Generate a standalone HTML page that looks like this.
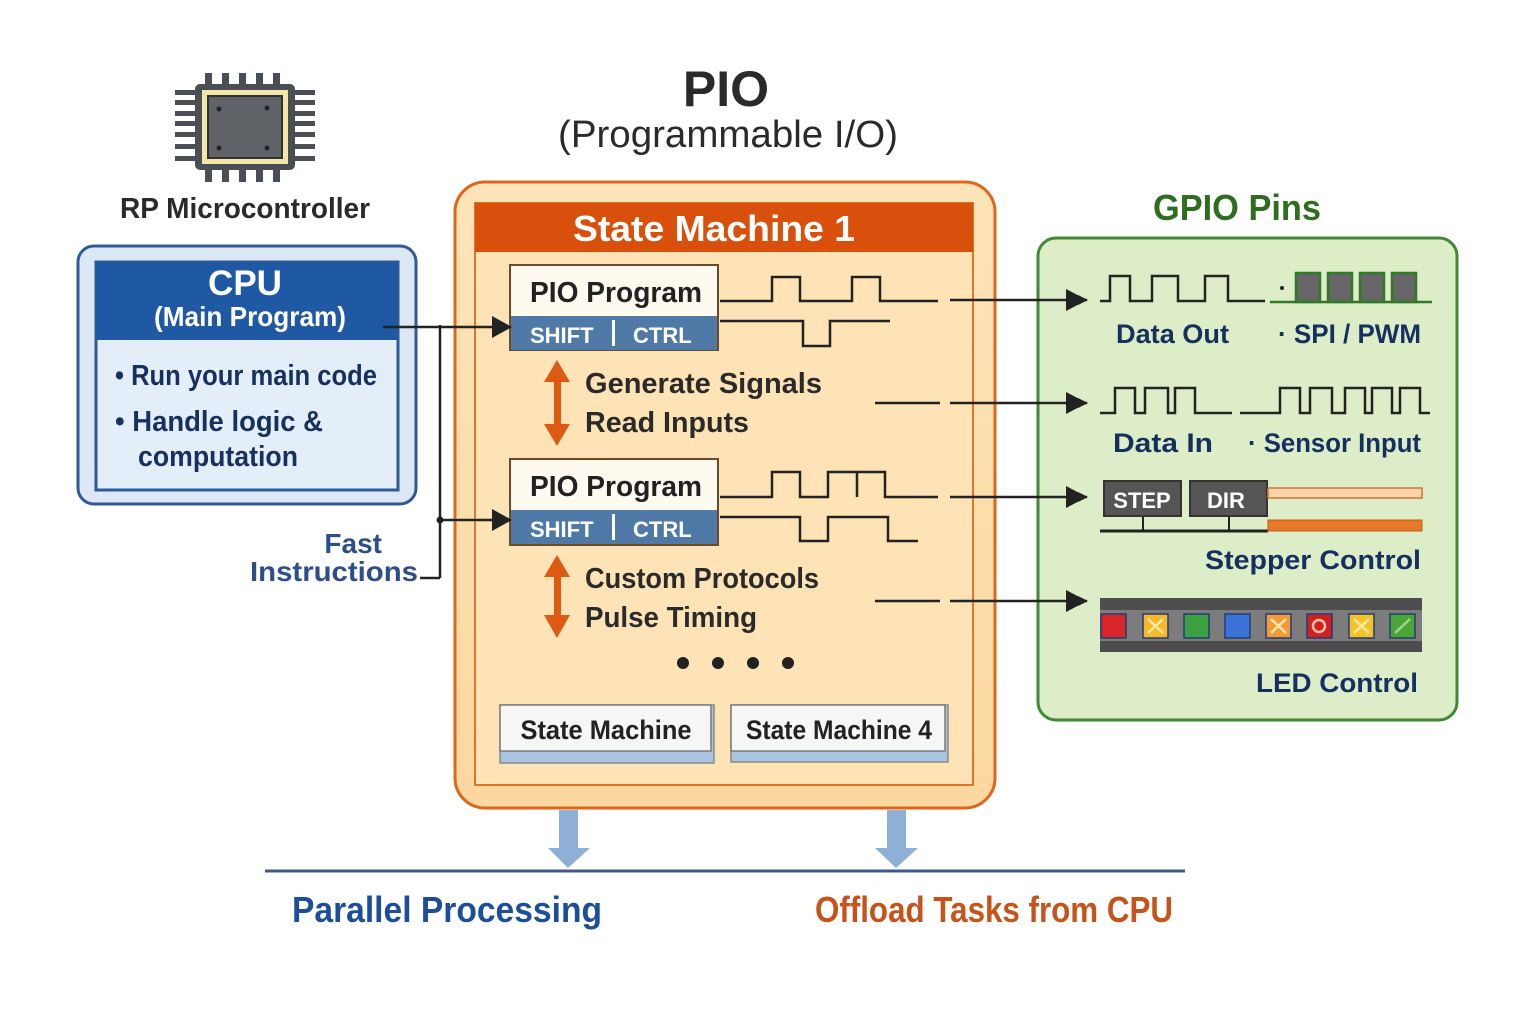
<!DOCTYPE html>
<html><head><meta charset="utf-8"><style>
html,body{margin:0;padding:0;background:#fff;}
svg{display:block;}
text{font-family:"Liberation Sans",sans-serif;font-weight:bold;}
</style></head><body>
<svg width="1536" height="1024" viewBox="0 0 1536 1024" xmlns="http://www.w3.org/2000/svg">
<defs>
<marker id="ah" markerWidth="10" markerHeight="10" refX="9" refY="5" orient="auto" markerUnits="userSpaceOnUse" viewBox="0 0 10 10"><path d="M0,0 L10,5 L0,10 z" fill="#222"/></marker>
<linearGradient id="og" x1="0" y1="0" x2="0" y2="1"><stop offset="0" stop-color="#fde4b8"/><stop offset="1" stop-color="#fbd8a0"/></linearGradient>
</defs>
<rect width="1536" height="1024" fill="#fff"/>

<!-- chip -->
<g fill="#4a4f55">
<rect x="205" y="73" width="7" height="14"/><rect x="222" y="73" width="7" height="14"/><rect x="239" y="73" width="7" height="14"/><rect x="256" y="73" width="7" height="14"/><rect x="273" y="73" width="7" height="14"/>
<rect x="205" y="168" width="7" height="14"/><rect x="222" y="168" width="7" height="14"/><rect x="239" y="168" width="7" height="14"/><rect x="256" y="168" width="7" height="14"/><rect x="273" y="168" width="7" height="14"/>
<rect x="175" y="90" width="22" height="5"/><rect x="175" y="100" width="22" height="5"/><rect x="175" y="111" width="22" height="5"/><rect x="175" y="121" width="22" height="5"/><rect x="175" y="132" width="22" height="5"/><rect x="175" y="144" width="22" height="5"/><rect x="175" y="156" width="22" height="5"/>
<rect x="293" y="90" width="22" height="5"/><rect x="293" y="100" width="22" height="5"/><rect x="293" y="111" width="22" height="5"/><rect x="293" y="121" width="22" height="5"/><rect x="293" y="132" width="22" height="5"/><rect x="293" y="144" width="22" height="5"/><rect x="293" y="156" width="22" height="5"/>
<rect x="195" y="84" width="100" height="86" rx="5"/>
</g>
<rect x="202" y="90" width="86" height="74" fill="#f3e7a8"/>
<rect x="208" y="96" width="74" height="62" fill="#5f6368" stroke="#2e3136" stroke-width="2"/>
<circle cx="219" cy="109" r="2.5" fill="#222"/><circle cx="267" cy="108" r="2.5" fill="#222"/><circle cx="219" cy="148" r="2.5" fill="#222"/><circle cx="267" cy="148" r="2.5" fill="#222"/>
<text x="245" y="218" font-size="29" fill="#2a2a2a" text-anchor="middle" textLength="250" lengthAdjust="spacingAndGlyphs">RP Microcontroller</text>

<!-- title -->
<text x="726" y="106" font-size="50" fill="#2a2a2a" text-anchor="middle">PIO</text>
<text x="728" y="147" font-size="38" fill="#2a2a2a" text-anchor="middle" style="font-weight:normal" textLength="340" lengthAdjust="spacingAndGlyphs">(Programmable I/O)</text>

<!-- CPU box -->
<rect x="78" y="246" width="338" height="258" rx="16" fill="#dce8f5" stroke="#2f5a95" stroke-width="3"/>
<rect x="96" y="262" width="302" height="228" fill="#e4eef9" stroke="#2f5a95" stroke-width="3"/>
<rect x="96" y="262" width="302" height="78" fill="#1f58a3"/>
<text x="245" y="295" font-size="35" fill="#fff" text-anchor="middle">CPU</text>
<text x="250" y="326" font-size="28" fill="#fff" text-anchor="middle" textLength="192" lengthAdjust="spacingAndGlyphs">(Main Program)</text>
<g font-size="29" fill="#16305f">
<text x="115" y="385" textLength="262" lengthAdjust="spacingAndGlyphs">• Run your main code</text>
<text x="115" y="431" textLength="208" lengthAdjust="spacingAndGlyphs">• Handle logic &amp;</text>
<text x="138" y="466" textLength="160" lengthAdjust="spacingAndGlyphs">computation</text>
</g>
<text x="382" y="553" font-size="28" fill="#2c4f8c" text-anchor="end">Fast</text>
<text x="418" y="581" font-size="28" fill="#2c4f8c" text-anchor="end" textLength="168" lengthAdjust="spacingAndGlyphs">Instructions</text>

<!-- PIO box -->
<rect x="455" y="182" width="540" height="626" rx="30" fill="url(#og)" stroke="#e0661a" stroke-width="3"/>
<rect x="475" y="203" width="498" height="582" fill="#fde3b5" stroke="#d9772e" stroke-width="2"/>
<rect x="475" y="203" width="498" height="49" fill="#d9500c"/>
<text x="714" y="241" font-size="36" fill="#fff" text-anchor="middle" textLength="282" lengthAdjust="spacingAndGlyphs">State Machine 1</text>

<!-- program boxes -->
<g>
<rect x="510" y="265" width="208" height="85" fill="#fffaf0" stroke="#6b4a2a" stroke-width="2"/>
<rect x="511" y="316" width="206" height="34" fill="#4f79a7"/>
<text x="530" y="302" font-size="29" fill="#222" textLength="172" lengthAdjust="spacingAndGlyphs">PIO Program</text>
<text x="530" y="343" font-size="22" fill="#fff">SHIFT</text>
<rect x="612" y="320" width="3" height="26" fill="#fff"/>
<text x="633" y="343" font-size="22" fill="#fff">CTRL</text>

<rect x="510" y="459" width="208" height="86" fill="#fffaf0" stroke="#6b4a2a" stroke-width="2"/>
<rect x="511" y="510" width="206" height="34" fill="#4f79a7"/>
<text x="530" y="496" font-size="29" fill="#222" textLength="172" lengthAdjust="spacingAndGlyphs">PIO Program</text>
<text x="530" y="537" font-size="22" fill="#fff">SHIFT</text>
<rect x="612" y="514" width="3" height="26" fill="#fff"/>
<text x="633" y="537" font-size="22" fill="#fff">CTRL</text>
</g>

<!-- orange double arrows -->
<g fill="#dd5a12">
<rect x="554" y="378" width="7" height="50"/>
<path d="M544 382 L557 360 L570 382 z"/><path d="M544 424 L557 446 L570 424 z"/>
<rect x="554" y="573" width="7" height="46"/>
<path d="M544 577 L557 555 L570 577 z"/><path d="M544 615 L557 638 L570 615 z"/>
</g>
<g font-size="29" fill="#2a2a2a">
<text x="585" y="393" textLength="237" lengthAdjust="spacingAndGlyphs">Generate Signals</text>
<text x="585" y="432" textLength="164" lengthAdjust="spacingAndGlyphs">Read Inputs</text>
<text x="585" y="588" textLength="234" lengthAdjust="spacingAndGlyphs">Custom Protocols</text>
<text x="585" y="627" textLength="172" lengthAdjust="spacingAndGlyphs">Pulse Timing</text>
</g>
<g fill="#222"><circle cx="683" cy="663" r="6"/><circle cx="718" cy="663" r="6"/><circle cx="753" cy="663" r="6"/><circle cx="788" cy="663" r="6"/></g>

<!-- SM boxes -->
<rect x="500" y="705" width="214" height="58" fill="#a9c3e0" stroke="#8a8a8a" stroke-width="1.5"/>
<rect x="500" y="705" width="211" height="46" fill="#f6f6f4" stroke="#7a7a7a" stroke-width="1.5"/>
<text x="606" y="739" font-size="27" fill="#222" text-anchor="middle" textLength="171" lengthAdjust="spacingAndGlyphs">State Machine</text>
<rect x="731" y="705" width="217" height="57" fill="#a9c3e0" stroke="#8a8a8a" stroke-width="1.5"/>
<rect x="731" y="705" width="214" height="46" fill="#f6f6f4" stroke="#7a7a7a" stroke-width="1.5"/>
<text x="839" y="739" font-size="27" fill="#222" text-anchor="middle" textLength="186" lengthAdjust="spacingAndGlyphs">State Machine 4</text>

<!-- down arrows -->
<g fill="#8fb0d6">
<rect x="559" y="810" width="19" height="40"/><path d="M548 848 L568 868 L590 848 z"/>
<rect x="887" y="810" width="19" height="40"/><path d="M875 848 L896 868 L918 848 z"/>
</g>
<line x1="265" y1="871" x2="1185" y2="871" stroke="#3d5a8a" stroke-width="3"/>
<text x="292" y="922" font-size="36" fill="#1d4e9a" textLength="310" lengthAdjust="spacingAndGlyphs">Parallel Processing</text>
<text x="815" y="922" font-size="36" fill="#c5531a" textLength="358" lengthAdjust="spacingAndGlyphs">Offload Tasks from CPU</text>

<!-- GPIO -->
<text x="1237" y="220" font-size="36" fill="#2e6e1e" text-anchor="middle" textLength="168" lengthAdjust="spacingAndGlyphs">GPIO Pins</text>
<rect x="1038" y="238" width="419" height="482" rx="18" fill="#dcedc8" stroke="#3f8a33" stroke-width="3"/>

<g stroke="#222" stroke-width="2.5" fill="none">
<path d="M1100 301 H1110 V276 H1130 V301 H1152 V276 H1178 V301 H1205 V276 H1228 V301 H1265"/>
<path d="M1100 413 H1115 V388 H1135 V413 H1145 V388 H1168 V413 H1175 V388 H1195 V413 H1232"/>
<path d="M1240 413 H1280 V388 H1300 V413 H1310 V388 H1332 V413 H1345 V388 H1365 V413 H1372 V388 H1392 V413 H1400 V388 H1420 V413 H1430"/>
</g>
<circle cx="1282" cy="288" r="2" fill="#222"/>
<path d="M1270 302 H1432" stroke="#2f7a24" stroke-width="2.5"/>
<g fill="#666" stroke="#2f7a24" stroke-width="2.5">
<rect x="1296" y="273" width="24" height="29"/><rect x="1328" y="273" width="24" height="29"/><rect x="1360" y="273" width="24" height="29"/><rect x="1392" y="273" width="24" height="29"/>
</g>
<g font-size="27" fill="#15305f">
<text x="1116" y="343" textLength="113" lengthAdjust="spacingAndGlyphs">Data Out</text>
<text x="1278" y="343" textLength="143" lengthAdjust="spacingAndGlyphs">· SPI / PWM</text>
<text x="1113" y="452" textLength="100" lengthAdjust="spacingAndGlyphs">Data In</text>
<text x="1248" y="452" textLength="173" lengthAdjust="spacingAndGlyphs">· Sensor Input</text>
<text x="1421" y="569" text-anchor="end" textLength="216" lengthAdjust="spacingAndGlyphs">Stepper Control</text>
<text x="1418" y="692" text-anchor="end" textLength="162" lengthAdjust="spacingAndGlyphs">LED Control</text>
</g>

<!-- stepper -->
<line x1="1100" y1="531" x2="1268" y2="531" stroke="#222" stroke-width="3"/>
<line x1="1143" y1="515" x2="1143" y2="531" stroke="#222" stroke-width="2"/>
<line x1="1229" y1="515" x2="1229" y2="531" stroke="#222" stroke-width="2"/>
<rect x="1104" y="481" width="77" height="35" fill="#555" stroke="#333" stroke-width="2"/>
<rect x="1190" y="481" width="77" height="35" fill="#555" stroke="#333" stroke-width="2"/>
<text x="1142" y="508" font-size="22" fill="#fff" text-anchor="middle">STEP</text>
<text x="1226" y="508" font-size="22" fill="#fff" text-anchor="middle">DIR</text>
<rect x="1268" y="488" width="154" height="10" fill="#fcd3a8" stroke="#c87a3a" stroke-width="1.5"/>
<rect x="1268" y="520" width="154" height="11" fill="#e8782a" stroke="#b85a1a" stroke-width="1"/>

<!-- LED strip -->
<rect x="1100" y="598" width="322" height="54" fill="#7c7c7c"/>
<rect x="1100" y="598" width="322" height="12" fill="#4d4d4d"/>
<rect x="1100" y="641" width="322" height="11" fill="#4d4d4d"/>
<g stroke="#1e3c7a" stroke-width="1.5">
<rect x="1101" y="614" width="25" height="24" fill="#d9262a"/>
<rect x="1143" y="614" width="25" height="24" fill="#f7b92a"/>
<rect x="1184" y="614" width="25" height="24" fill="#3aa040"/>
<rect x="1225" y="614" width="25" height="24" fill="#3a72d6"/>
<rect x="1266" y="614" width="25" height="24" fill="#f29a3a"/>
<rect x="1307" y="614" width="25" height="24" fill="#d02020"/>
<rect x="1349" y="614" width="25" height="24" fill="#f5c22a"/>
<rect x="1390" y="614" width="25" height="24" fill="#4aa534"/>
</g>
<g stroke="#fde9a8" stroke-width="2.5" fill="none">
<path d="M1148 619 L1163 633 M1163 619 L1148 633"/>
<path d="M1271 619 L1286 633 M1286 619 L1271 633"/>
<circle cx="1319" cy="626" r="6" stroke="#f3c0b0"/>
<path d="M1354 619 L1369 633 M1369 619 L1354 633"/>
<path d="M1395 633 L1410 619" stroke="#9fd48a"/>
</g>

<!-- connectors (on top) -->
<g stroke="#222" stroke-width="2.5" fill="none">
<line x1="383" y1="327" x2="510" y2="327" marker-end="url(#ah)"/>
<line x1="440" y1="325" x2="440" y2="578"/>
<line x1="440" y1="520" x2="510" y2="520" marker-end="url(#ah)"/>
<line x1="420" y1="578" x2="440" y2="578"/>
<path d="M720 301 H772 V277 H800 V301 H852 V277 H880 V301 H938"/>
<path d="M720 321 H803 V346 H830 V321 H890"/>
<path d="M720 497 H772 V472 H800 V497 H828 V472 H885 V497 H938 M857 472 V497"/>
<path d="M720 517 H800 V541 H828 V517 H888 V541 H918"/>
<line x1="875" y1="403" x2="940" y2="403"/>
<line x1="875" y1="601" x2="940" y2="601"/>
<line x1="950" y1="300" x2="1087" y2="300" marker-end="url(#ah)"/>
<line x1="950" y1="403" x2="1087" y2="403" marker-end="url(#ah)"/>
<line x1="950" y1="497" x2="1087" y2="497" marker-end="url(#ah)"/>
<line x1="950" y1="601" x2="1087" y2="601" marker-end="url(#ah)"/>
</g>
<g fill="#222">
<path d="M492 316 L512 327 L492 338 z"/>
<path d="M492 509 L512 520 L492 531 z"/>
<path d="M1066 289 L1087 300 L1066 311 z"/>
<path d="M1066 392 L1087 403 L1066 414 z"/>
<path d="M1066 486 L1087 497 L1066 508 z"/>
<path d="M1066 590 L1087 601 L1066 612 z"/>
<circle cx="440" cy="520" r="3.5"/>
</g>
</svg>
</body></html>
